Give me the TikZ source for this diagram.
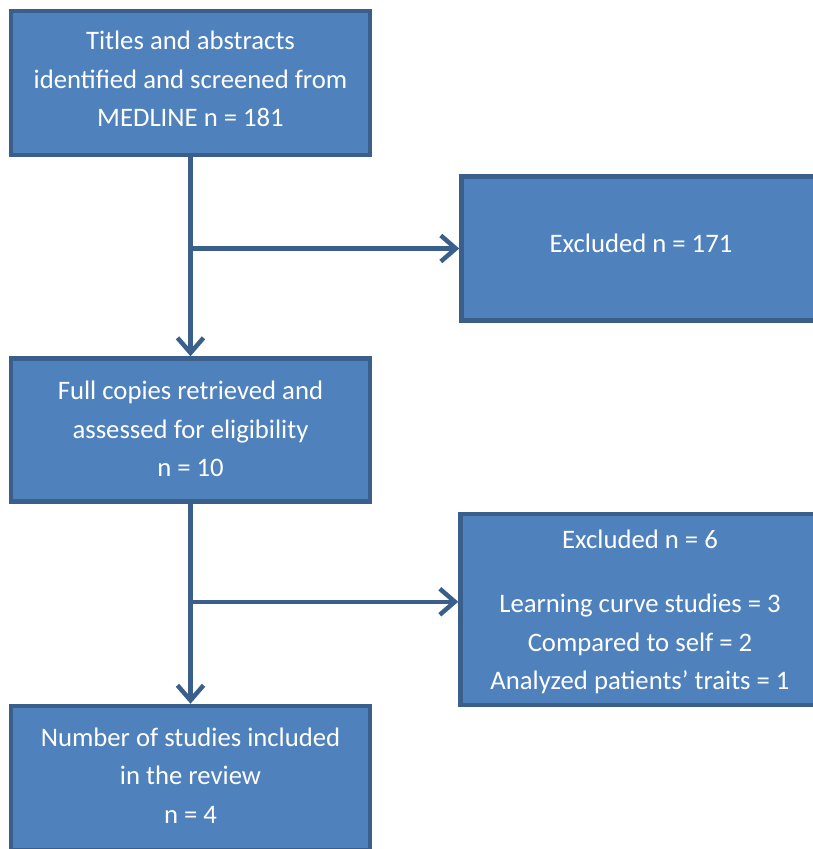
\documentclass[tikz,border=0pt]{standalone}
\usepackage{fontspec}
\setmainfont{Carlito}
\usepackage{tikz}
\usetikzlibrary{positioning,arrows.meta,calc}
\definecolor{boxfill}{HTML}{4F81BD}
\definecolor{boxline}{HTML}{3A5F8B}

\begin{document}
\begin{tikzpicture}[
  x=1pt, y=-1pt,
  flow/.style={draw=boxline, line width=4.5pt, fill=boxfill, text=white,
               align=center, minimum width=359pt, inner sep=0pt,
               font=\fontsize{26.7}{38.5}\selectfont},
  link/.style={draw=boxline, line width=4.5pt, line cap=round, line join=round,
               -{Straight Barb[length=15pt, width=26pt]}},
]
  \useasboundingbox (0,0) rectangle (812,849);

  % Main stages
  \node[flow, minimum height=144pt, text depth=8pt] (titles) at (190.5,83)
    {Titles and abstracts\\identified and screened from\\MEDLINE n = 181};
  \node[flow, minimum height=143pt, text depth=2pt, below=199pt of titles] (full)
    {Full copies retrieved and\\assessed for eligibility\\n = 10};
  \node[flow, minimum height=144pt, text depth=5pt, below=200pt of full] (incl)
    {Number of studies included\\in the review\\n = 4};

  % Exclusions
  \node[flow, minimum height=144pt, text depth=10pt, below right=17pt and 87pt of titles] (exclA)
    {Excluded n = 171};
  \node[flow, minimum height=191pt, text depth=-4.5pt, below right=8pt and 86pt of full] (exclB)
    {Excluded n = 6\\[26pt]Learning curve studies = 3\\Compared to self = 2\\Analyzed patients’ traits = 1};

  % Branch points
  \coordinate (splitA) at (titles.south |- exclA.west);
  \coordinate (splitB) at ($(full.south)+(0,98)$);

  % Arrows
  \draw[link] (titles.south) -- (full.north);
  \draw[link] (splitA) -- (exclA.west);
  \draw[link] (full.south) -- (incl.north);
  \draw[link] (splitB) -- (splitB -| exclB.west);
\end{tikzpicture}
\end{document}
